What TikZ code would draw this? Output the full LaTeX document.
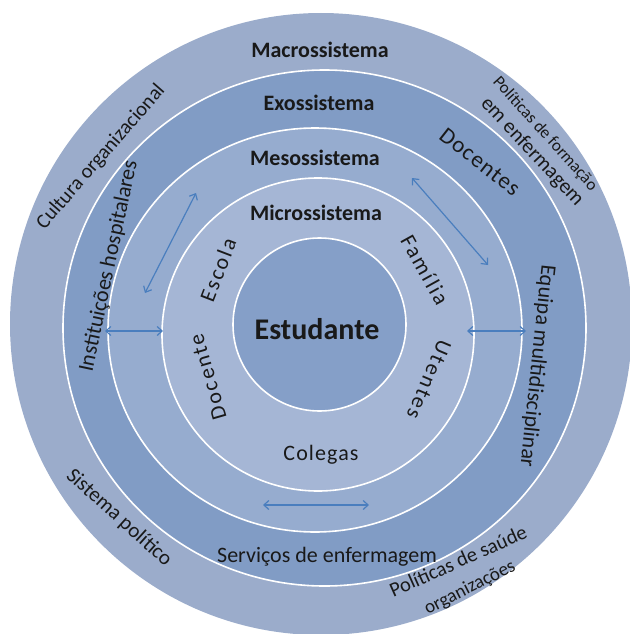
\documentclass[tikz,border=0pt]{standalone}
\usepackage{fontspec}
\setmainfont{Carlito}
\newfontfamily\spacedfont[LetterSpace=10]{Carlito}
\newfontfamily\lightspacedfont[LetterSpace=5]{Carlito}
\usetikzlibrary{arrows.meta}
\definecolor{ringmacro}{RGB}{155,172,203}
\definecolor{ringexo}{RGB}{129,156,197}
\definecolor{ringmeso}{RGB}{150,172,207}
\definecolor{ringmicro}{RGB}{165,182,213}
\definecolor{ringcore}{RGB}{133,159,200}
\definecolor{arrowblue}{RGB}{74,126,190}
\definecolor{txt}{RGB}{25,25,25}
\begin{document}
\begin{tikzpicture}[x=1pt,y=-1pt,
  ring/.style={draw=white,line width=1.6pt},
  ttl/.style={font=\bfseries\fontsize{22}{24}\selectfont,text=txt,inner sep=0pt,anchor=base},
  lbl/.style={font=\fontsize{22}{24}\selectfont,text=txt,inner sep=0pt},
  slbl/.style={font=\spacedfont\fontsize{22}{24}\selectfont,text=txt,inner sep=0pt},
  link/.style={draw=arrowblue,line width=1.2pt,
    {Straight Barb[length=5pt,width=9pt]}-{Straight Barb[length=5pt,width=9pt]}}]
\useasboundingbox (0,0) rectangle (629,634);
% rings
\fill[ringmacro] (321,324) circle [radius=311];
\filldraw[ring,fill=ringexo] (324.5,328) ellipse [x radius=261.5,y radius=258];
\filldraw[ring,fill=ringmeso] (315,330) ellipse [x radius=207,y radius=202];
\filldraw[ring,fill=ringmicro] (318,334.5) ellipse [x radius=156,y radius=156.5];
\filldraw[ring,fill=ringcore] (319.5,324.5) circle [radius=86.5];
% titles
\node[ttl] (macro) at (320,57) {Macrossistema};
\node[ttl] (exo) at (319,110) {Exossistema};
\node[ttl] (meso) at (315,165) {Mesossistema};
\node[ttl] (micro) at (316,220) {Microssistema};
\node[ttl,font=\bfseries\fontsize{30}{32}\selectfont] (est) at (317,339) {Estudante};
% microsystem
\node[lbl,font=\lightspacedfont\fontsize{22}{24}\selectfont,anchor=base] (colegas) at (321,460) {Colegas};
\node[slbl,rotate=69] (escola) at (218,270) {Escola};
\node[slbl,rotate=-61] (familia) at (425,270) {Família};
\node[slbl,rotate=106] (docente) at (208,377) {Docente};
\node[slbl,rotate=-113] (utentes) at (429,380) {Utentes};
% exosystem
\node[lbl,rotate=78] (inst) at (109,266) {Instituições hospitalares};
\node[lbl,font=\lightspacedfont\fontsize{23}{25}\selectfont,rotate=-38] (docentes) at (480,162) {Docentes};
\node[lbl,rotate=-96] (equipa) at (537,366) {Equipa multidisciplinar};
\node[lbl,anchor=base] (servicos) at (327,562) {Serviços de enfermagem};
% macrosystem
\node[lbl,font=\fontsize{20.5}{22}\selectfont,rotate=49] (cultura) at (101,157) {Cultura organizacional};
\node[lbl,font=\fontsize{17}{19}\selectfont,rotate=-48] (polform) at (545,134) {Políticas de formação};
\node[lbl,font=\fontsize{21}{23}\selectfont,rotate=-47] (emenf) at (532,152) {em enfermagem};
\node[lbl,font=\fontsize{21}{23}\selectfont,rotate=-42] (sistema) at (119,518) {Sistema político};
\node[lbl,font=\fontsize{20.5}{22}\selectfont,rotate=24] (polsaude) at (458,561) {Políticas de saúde};
\node[lbl,font=\fontsize{19}{21}\selectfont,rotate=27] (org) at (470,588) {organizações};
% arrows
\coordinate (a1s) at (145,293); \coordinate (a1e) at (196,193);
\coordinate (a2s) at (412,178); \coordinate (a2e) at (488,265);
\coordinate (a3s) at (105,331); \coordinate (a3e) at (163,331);
\coordinate (a4s) at (467,331); \coordinate (a4e) at (526,331);
\coordinate (a5s) at (263,505); \coordinate (a5e) at (369,505);
\draw[link] (a1s) -- (a1e);
\draw[link] (a2s) -- (a2e);
\draw[link] (a3s) -- (a3e);
\draw[link] (a4s) -- (a4e);
\draw[link] (a5s) -- (a5e);
\end{tikzpicture}
\end{document}
